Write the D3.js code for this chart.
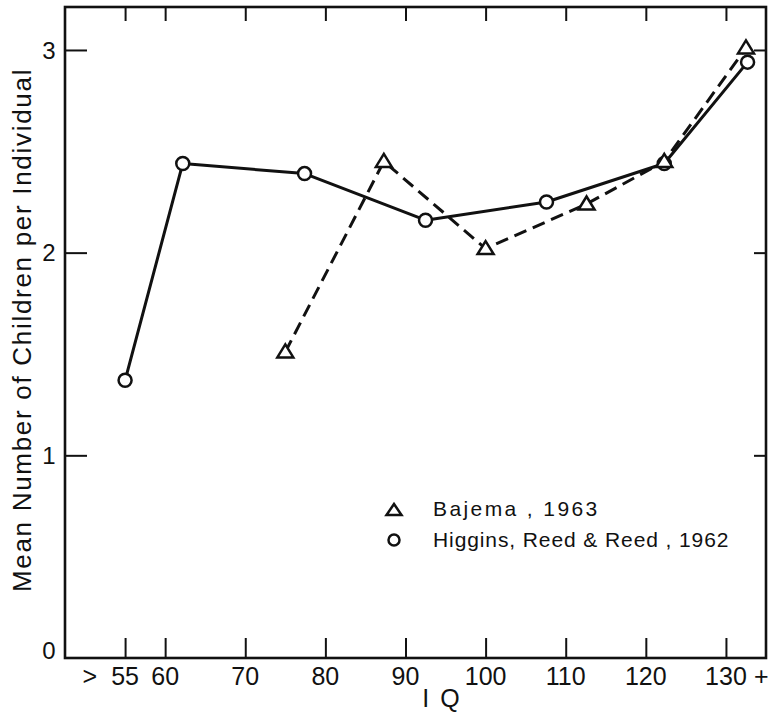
<!DOCTYPE html>
<html>
<head>
<meta charset="utf-8">
<script src="https://cdn.jsdelivr.net/npm/d3@7"></script>
<style>
  html, body { margin: 0; padding: 0; background: #fff; }
  svg { display: block; font-family: "Liberation Sans", Arial, sans-serif; }
</style>
</head>
<body>
<svg id="chart" width="775" height="714"></svg>
<script>
// ---- data ----
const higginsIQ = [55, 62.2, 77.4, 92.5, 107.6, 122.3, 132.7];
const higginsMean = [1.37, 2.44, 2.39, 2.16, 2.25, 2.44, 2.94];
const bajemaIQ = [75, 87.3, 100, 112.6, 122.3, 132.5];
const bajemaMean = [1.51, 2.45, 2.02, 2.24, 2.45, 3.01];

const xTicks = [55, 60, 70, 80, 90, 100, 110, 120, 130];
const xTickLabels = ["55", "60", "70", "80", "90", "100", "110", "120", "130"];
const xTickPrefix = [">", "", "", "", "", "", "", "", ""];
const xTickSuffix = ["", "", "", "", "", "", "", "", "+"];
const yTicks = [0, 1, 2, 3];
const yTickLabels = ["0", "1", "2", "3"];

const xTitle = "I Q";
const yTitle = "Mean Number of Children per Individual";
const legendLabels = ["Bajema , 1963", "Higgins, Reed & Reed , 1962"];

// ---- layout ----
const svg = d3.select("#chart");
const L = 65, R = 766, T = 7, B = 658;

const x = d3.scaleLinear().domain([47.5, 135]).range([L, R]);
const y = d3.scaleLinear().domain([0, 3.212]).range([B, T]);

const ink = "#111";

// ticks (inward on all four sides)
const gB = svg.append("g").attr("transform", `translate(0,${B})`)
  .call(d3.axisBottom(x).tickValues(xTicks).tickSize(-20).tickFormat(""));
const gT = svg.append("g").attr("transform", `translate(0,${T})`)
  .call(d3.axisTop(x).tickValues(xTicks).tickSize(-14).tickFormat(""));
const gL = svg.append("g").attr("transform", `translate(${L},0)`)
  .call(d3.axisLeft(y).tickValues(yTicks.filter(v => v > 0)).tickSize(-22).tickFormat(""));
const gR = svg.append("g").attr("transform", `translate(${R},0)`)
  .call(d3.axisRight(y).tickValues(yTicks.filter(v => v > 0)).tickSize(-12).tickFormat(""));
[gB, gT, gL, gR].forEach(g => {
  g.select(".domain").remove();
  g.selectAll(".tick line").attr("stroke", ink).attr("stroke-width", 2);
});

// frame
svg.append("rect")
  .attr("x", L).attr("y", T).attr("width", R - L).attr("height", B - T)
  .attr("fill", "none").attr("stroke", ink).attr("stroke-width", 2.6);

// x tick labels
const xl = svg.append("g").attr("font-size", 25).attr("fill", ink);
xl.selectAll("text.num").data(xTicks).join("text")
  .attr("class", "num")
  .attr("x", d => x(d)).attr("y", B + 27)
  .attr("text-anchor", "middle")
  .text((d, i) => xTickLabels[i]);
xl.selectAll("text.pre").data(xTicks.filter((d, i) => xTickPrefix[i])).join("text")
  .attr("class", "pre")
  .attr("x", d => x(d) - 28).attr("y", B + 27)
  .attr("text-anchor", "end")
  .text(d => xTickPrefix[xTicks.indexOf(d)]);
xl.selectAll("text.suf").data(xTicks.filter((d, i) => xTickSuffix[i])).join("text")
  .attr("class", "suf")
  .attr("x", d => x(d) + 28).attr("y", B + 27)
  .attr("text-anchor", "start")
  .text(d => xTickSuffix[xTicks.indexOf(d)]);

// y tick labels
svg.append("g").attr("font-size", 24).attr("fill", ink)
  .selectAll("text").data(yTicks).join("text")
  .attr("x", 49)
  .attr("y", d => d === 0 ? y(d) - 8 : y(d))
  .attr("dy", "0.36em")
  .attr("text-anchor", "middle")
  .text((d, i) => yTickLabels[i]);

// axis titles
svg.append("text")
  .attr("x", 442).attr("y", 707)
  .attr("text-anchor", "middle").attr("font-size", 25).attr("fill", ink)
  .attr("letter-spacing", 2)
  .text(xTitle);

svg.append("text")
  .attr("transform", `translate(31,${(y(0) + y(3)) / 2 - 24}) rotate(-90)`)
  .attr("text-anchor", "middle").attr("font-size", 26).attr("fill", ink)
  .attr("letter-spacing", 1.7)
  .text(yTitle);

// lines
const lineH = d3.line().x(d => x(d[0])).y(d => y(d[1]));
const higgins = higginsIQ.map((v, i) => [v, higginsMean[i]]);
const bajema = bajemaIQ.map((v, i) => [v, bajemaMean[i]]);

svg.append("path").datum(higgins)
  .attr("d", lineH).attr("fill", "none").attr("stroke", ink)
  .attr("stroke-width", 3).attr("stroke-linejoin", "round");
svg.append("path").datum(bajema)
  .attr("d", lineH).attr("fill", "none").attr("stroke", ink)
  .attr("stroke-width", 3).attr("stroke-dasharray", "13,7");

// markers
const tri = "M0,-7.5 L8,5.5 L-8,5.5 Z";
svg.append("g").selectAll("circle").data(higgins).join("circle")
  .attr("cx", d => x(d[0])).attr("cy", d => y(d[1])).attr("r", 6.5)
  .attr("fill", "#fff").attr("stroke", ink).attr("stroke-width", 2.5);
svg.append("g").selectAll("path").data(bajema).join("path")
  .attr("transform", d => `translate(${x(d[0])},${y(d[1])})`)
  .attr("d", tri)
  .attr("fill", "#fff").attr("stroke", ink).attr("stroke-width", 2.5)
  .attr("stroke-linejoin", "miter");

// legend
const lg = svg.append("g").attr("fill", ink);
lg.append("path").attr("transform", "translate(394,510)")
  .attr("d", "M0,-6 L7.5,5 L-7.5,5 Z")
  .attr("fill", "#fff").attr("stroke", ink).attr("stroke-width", 2.5);
lg.append("circle").attr("cx", 394).attr("cy", 540).attr("r", 5.5)
  .attr("fill", "#fff").attr("stroke", ink).attr("stroke-width", 2.5);
lg.selectAll("text").data(legendLabels).join("text")
  .attr("x", 433).attr("y", (d, i) => 516 + i * 31)
  .attr("font-size", 21).attr("letter-spacing", (d, i) => i === 0 ? 2.4 : 0.9)
  .text(d => d);
</script>
</body>
</html>
